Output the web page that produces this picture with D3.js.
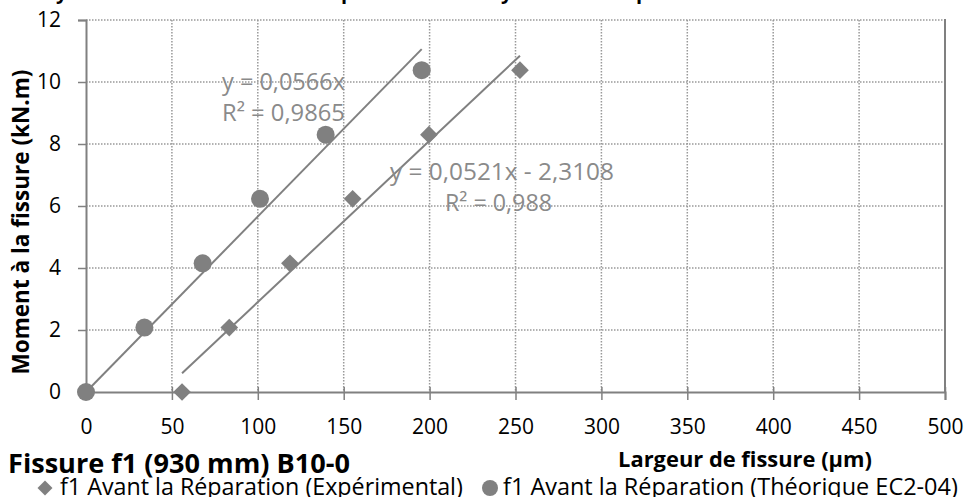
<!DOCTYPE html>
<html>
<head>
<meta charset="utf-8">
<script src="https://cdn.jsdelivr.net/npm/d3@7"></script>
<style>
  body { margin: 0; background: #fff; }
  text { font-family: "Open Sans", sans-serif; }
</style>
</head>
<body>
<div id="chart"></div>
<script>
// values
const momentValues = [0, 2.08, 4.15, 6.23, 8.3, 10.38];
const widthExp = [55.9, 83.4, 118.7, 155.2, 199.6, 252.6];
const widthTheo = [0, 34, 67.9, 101.3, 139.5, 195.4];
const xTicks = [0, 50, 100, 150, 200, 250, 300, 350, 400, 450, 500];
const yTicks = [0, 2, 4, 6, 8, 10, 12];
// trendline coefficients (slope, intercept) as printed on the chart
const trendTheo = [0.0566, 0];
const trendExp = [0.0521, -2.3108];
const legendLabels = ["f1 Avant la Réparation (Expérimental)", "f1 Avant la Réparation (Théorique EC2-04)"];

const W = 966, H = 497;
const margin = {left: 86, right: 21, top: 20, bottom: 105};
const grey = "#808080";

const svg = d3.select("#chart").append("svg")
  .attr("width", W).attr("height", H);

const x = d3.scaleLinear().domain([0, 500]).range([margin.left, W - margin.right]);
const y = d3.scaleLinear().domain([0, 12]).range([H - margin.bottom, margin.top]);

// shrink/grow a text so it spans the wanted width
const fit = (sel, wanted) => {
  const fs = +sel.attr("font-size");
  const w = sel.node().getComputedTextLength();
  sel.attr("font-size", (fs * wanted / w).toFixed(2));
  return sel;
};

// title cut off at top of picture (only descenders visible)
const title = svg.append("text")
  .attr("y", -1)
  .attr("font-family", "'DejaVu Serif', serif")
  .attr("font-weight", "bold")
  .attr("font-size", 20)
  .attr("fill", "#000");
[["y", 56], ["p", 341], ["y", 501], ["p", 636]].forEach(d => {
  title.append("tspan").attr("x", d[1]).text(d[0]);
});

// gridlines
svg.append("g").selectAll("line").data(xTicks.slice(1, -1)).join("line")
  .attr("x1", d => x(d)).attr("x2", d => x(d))
  .attr("y1", y(12)).attr("y2", y(0))
  .attr("stroke", "#999").attr("stroke-width", 1.5)
  .attr("stroke-dasharray", "1.5,1.5");
svg.append("g").selectAll("line").data(yTicks.slice(1)).join("line")
  .attr("x1", x(0)).attr("x2", x(500))
  .attr("y1", d => y(d)).attr("y2", d => y(d))
  .attr("stroke", "#999").attr("stroke-width", 1.5)
  .attr("stroke-dasharray", "1.5,1.5");

// right border
svg.append("line")
  .attr("x1", x(500)).attr("x2", x(500))
  .attr("y1", y(12) - 1).attr("y2", y(0))
  .attr("stroke", grey).attr("stroke-width", 2);

// axes
const xAxis = svg.append("g")
  .attr("transform", `translate(0,${y(0)})`)
  .call(d3.axisBottom(x).tickValues(xTicks).tickSize(8).tickPadding(19));
const yAxis = svg.append("g")
  .attr("transform", `translate(${x(0)},0)`)
  .call(d3.axisLeft(y).tickValues(yTicks).tickSize(8).tickPadding(17));
[xAxis, yAxis].forEach(a => {
  a.select(".domain").attr("stroke", grey).attr("stroke-width", 2);
  a.selectAll(".tick line").attr("stroke", grey).attr("stroke-width", 1.5);
  a.selectAll(".tick text").attr("font-size", 21).attr("fill", "#000")
    .attr("font-family", "'Open Sans', sans-serif");
});
xAxis.selectAll(".tick line").attr("y1", -5);

// trendlines
const trend = (c, x0, x1) => [[x0, c[0] * x0 + c[1]], [x1, c[0] * x1 + c[1]]];
const lineGen = d3.line().x(d => x(d[0])).y(d => y(d[1]));
svg.append("path")
  .attr("d", lineGen(trend(trendTheo, d3.min(widthTheo), d3.max(widthTheo))))
  .attr("stroke", grey).attr("stroke-width", 2).attr("fill", "none");
svg.append("path")
  .attr("d", lineGen(trend(trendExp, d3.min(widthExp), d3.max(widthExp))))
  .attr("stroke", grey).attr("stroke-width", 2).attr("fill", "none");

// markers
const diamond = d3.symbol().type(d3.symbolSquare).size(157);
svg.append("g").selectAll("path").data(widthExp).join("path")
  .attr("d", diamond)
  .attr("transform", (d, i) => `translate(${x(d)},${y(momentValues[i])}) rotate(45)`)
  .attr("fill", grey);
svg.append("g").selectAll("circle").data(widthTheo).join("circle")
  .attr("cx", d => x(d)).attr("cy", (d, i) => y(momentValues[i]))
  .attr("r", 9).attr("fill", grey);

// trendline equations
const eq = svg.append("g").attr("fill", "#8a8a8a");
fit(eq.append("text").attr("x", 222).attr("y", 90).attr("font-size", 20).text("y = 0,0566x"), 123);
fit(eq.append("text").attr("x", 222).attr("y", 121).attr("font-size", 20).text("R² = 0,9865"), 123);
fit(eq.append("text").attr("x", 390).attr("y", 180).attr("font-size", 20).text("y = 0,0521x - 2,3108"), 224);
fit(eq.append("text").attr("x", 445).attr("y", 211).attr("font-size", 20).text("R² = 0,988"), 107);

// axis titles
fit(svg.append("text")
  .attr("x", 745).attr("y", 467)
  .attr("text-anchor", "middle")
  .attr("font-size", 20).attr("font-weight", "bold")
  .text("Largeur de fissure (µm)"), 254);
fit(svg.append("text")
  .attr("transform", "translate(29,222) rotate(-90)")
  .attr("text-anchor", "middle")
  .attr("font-size", 20).attr("font-weight", "bold")
  .text("Moment à la fissure (kN.m)"), 305);

// chart name
fit(svg.append("text")
  .attr("x", 8).attr("y", 473)
  .attr("font-size", 24).attr("font-weight", "bold")
  .text("Fissure f1 (930 mm) B10-0"), 342);

// legend
const leg = svg.append("g").attr("fill", "#000");
leg.append("path").attr("d", d3.symbol().type(d3.symbolSquare).size(112))
  .attr("transform", "translate(45,488) rotate(45)").attr("fill", grey);
fit(leg.append("text").attr("x", 60).attr("y", 495).attr("font-size", 20).text(legendLabels[0]), 403);
leg.append("circle").attr("cx", 490).attr("cy", 488).attr("r", 8).attr("fill", grey);
fit(leg.append("text").attr("x", 503).attr("y", 495).attr("font-size", 20).text(legendLabels[1]), 455);
</script>
</body>
</html>
